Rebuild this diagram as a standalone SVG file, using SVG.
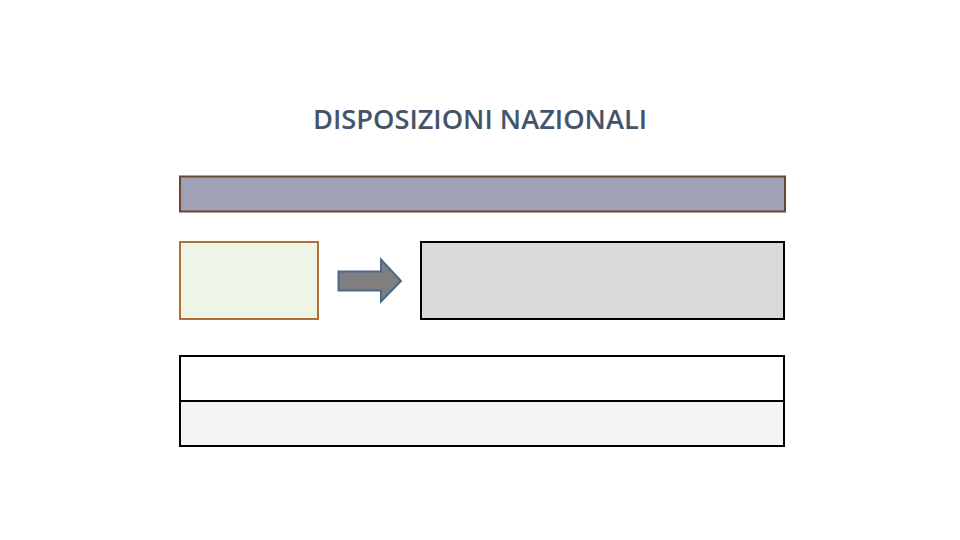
<svg xmlns="http://www.w3.org/2000/svg" width="960" height="540" viewBox="0 0 960 540">
<style>
.title{font-family:"Open Sans","Liberation Sans",sans-serif;font-size:27px;font-weight:600;fill:#44546a;}
.blk{stroke:#000;stroke-width:2;}
</style>
<rect width="960" height="540" fill="#ffffff"/>
<text class="title" x="313" y="129" textLength="334" lengthAdjust="spacingAndGlyphs">DISPOSIZIONI NAZIONALI</text>
<g id="header-bar"><rect x="180" y="176.5" width="605" height="35" fill="#a0a0b6" stroke="#6b4630" stroke-width="2"/></g>
<g id="left-box"><rect x="180" y="242" width="138" height="77" fill="#eef4e6" stroke="#b06f35" stroke-width="2"/></g>
<g id="right-box"><rect x="421" y="242" width="363" height="77" fill="#d9d9d9" class="blk"/></g>
<g id="connectors"><polygon points="338.5,271.5 381,271.5 381,259.5 401,281 381,301.5 381,290.5 338.5,290.5" fill="#7f7f7f" stroke="#4a6a8c" stroke-width="2"/></g>
<g id="table">
<rect x="180" y="356" width="604" height="45" fill="#ffffff" class="blk"/>
<rect x="180" y="401" width="604" height="45" fill="#f4f4f4" class="blk"/>
</g>
</svg>
